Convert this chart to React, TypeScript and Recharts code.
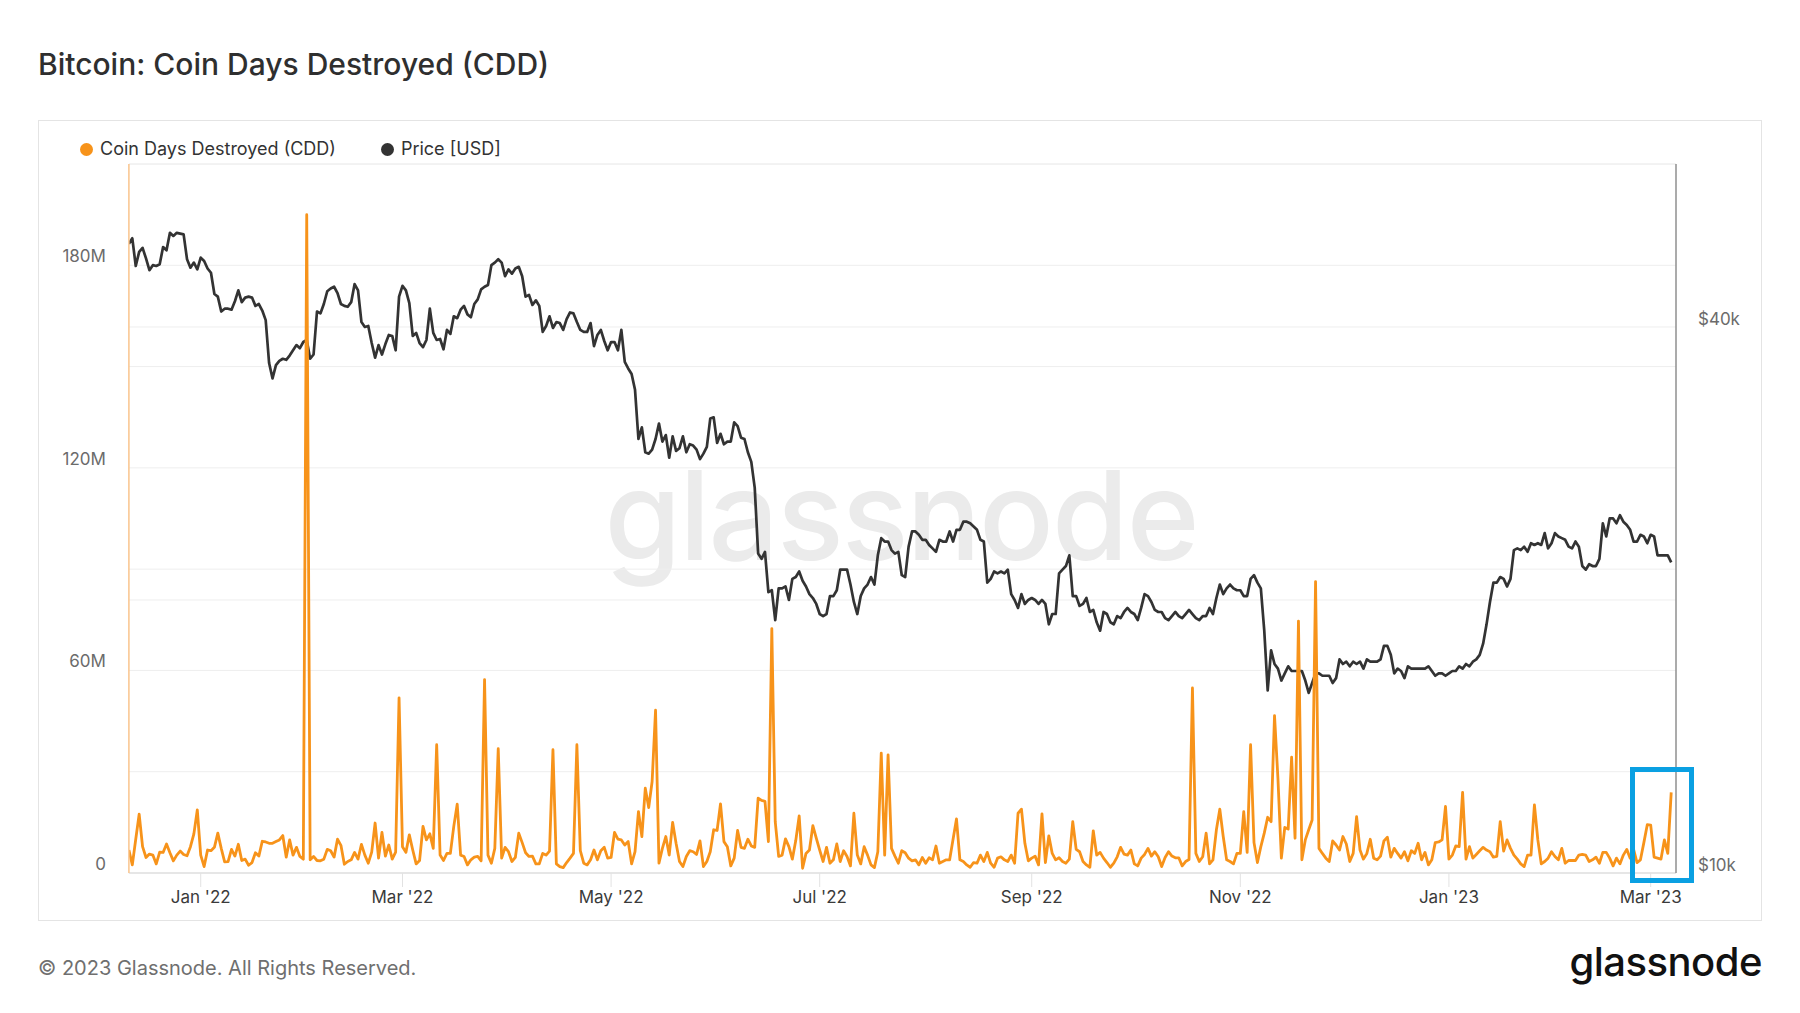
import React from "react";
import { LineChart, Line, XAxis, YAxis, CartesianGrid } from "recharts";

const DAY = 86400000;
const START = Date.UTC(2021, 11, 11);

// Coin Days Destroyed, in millions, one value per day starting 11 Dec 2021
const cddDec21 = [6.8, 2.4, 10, 17.4, 7.8, 4.6, 5.6, 5.3, 2.7, 6.2, 6.1, 8.6, 6.0, 3.6, 5.3, 6.5, 5.5, 5.1, 7.8, 11.6, 18.7];
const cddJan22 = [5.3, 1.9, 6.8, 6.6, 7.6, 11.8, 7.3, 3.3, 3.4, 7.0, 5.0, 8.5, 3.7, 4.1, 2.3, 3.1, 6.0, 5.0, 9.4, 9.2, 8.8, 8.8, 9.3, 9.8, 11.1, 4.7, 9.8, 5.3, 7.6, 4.9, 4.1];
const cddFeb22 = [195, 3.9, 4.9, 3.7, 3.6, 4.1, 7.0, 6.6, 4.7, 10.0, 8.2, 2.6, 3.4, 3.9, 6.1, 4.1, 8.5, 5.3, 2.9, 6.2, 14.8, 4.4, 12.0, 5.0, 8.3, 4.1, 6.2, 51.9];
const cddMar22 = [7.8, 6.1, 11.3, 6.8, 2.7, 3.7, 13.8, 9.8, 11.6, 7.3, 38.0, 5.3, 3.7, 5.8, 5.8, 13.8, 20.4, 5.3, 4.9, 2.4, 3.9, 4.7, 4.9, 3.6, 57.3, 5.3, 2.9, 7.3, 36.8, 4.4, 7.6];
const cddApr22 = [6.3, 3.4, 4.6, 11.8, 9.0, 6.0, 4.9, 5.0, 2.7, 2.7, 5.8, 5.3, 6.5, 36.5, 2.7, 1.9, 1.6, 3.1, 4.4, 5.8, 38.0, 6.6, 2.9, 2.4, 3.9, 6.8, 3.9, 6.6, 7.6, 4.4];
const cddMay22 = [4.6, 12.0, 10.0, 9.8, 8.3, 9.3, 2.7, 6.3, 18.2, 10.8, 25.1, 19.4, 27.1, 48.2, 2.9, 7.3, 10.8, 5.3, 15.0, 8.8, 3.4, 1.9, 4.9, 6.6, 6.3, 5.5, 9.5, 1.9, 3.4, 6.3, 12.8];
const cddJun22 = [12.6, 20.5, 9.3, 7.8, 2.1, 4.4, 12.6, 7.6, 7.3, 10.0, 8.0, 7.6, 22.2, 21.5, 21.2, 9.3, 72.4, 15.2, 4.9, 5.3, 10.1, 7.8, 4.1, 9.6, 16.9, 1.4, 5.8, 6.8, 14.0, 10.3];
const cddJul22 = [6.8, 3.4, 7.6, 2.9, 3.9, 8.6, 3.4, 6.6, 4.9, 2.1, 17.7, 5.3, 2.7, 7.8, 5.3, 2.4, 1.6, 6.3, 35.5, 5.3, 35.0, 7.3, 5.0, 2.9, 6.6, 6.0, 4.4, 3.6, 3.9, 2.4, 4.6];
const cddAug22 = [2.9, 4.5, 3.9, 8.0, 2.9, 3.4, 3.9, 3.9, 10, 16.0, 3.9, 3.4, 2.4, 1.7, 3.1, 2.9, 5.3, 3.4, 6.1, 2.9, 1.7, 4.4, 4.8, 3.9, 3.4, 5.3, 2.9, 17.7, 18.9, 8.8, 3.6];
const cddSep22 = [4.4, 5.0, 2.4, 17.5, 3.1, 11.0, 5.8, 3.9, 4.5, 3.4, 2.9, 4.1, 15.2, 7.0, 6.3, 3.4, 2.4, 1.7, 12.5, 5.3, 6.1, 4.4, 3.1, 1.7, 2.9, 4.8, 7.6, 5.6, 5.3, 6.8];
const cddOct22 = [2.7, 2.1, 4.4, 5.5, 7.3, 5.0, 6.3, 4.8, 1.9, 4.6, 6.3, 5.0, 4.5, 4.5, 2.1, 3.4, 4.0, 54.8, 5.8, 3.4, 4.8, 11.8, 2.7, 3.9, 12.8, 18.9, 10.8, 3.9, 3.4, 2.7, 5.8];
const cddNov22 = [5.8, 18.2, 6.1, 38.0, 9.0, 3.1, 7.8, 11.8, 16.5, 15.2, 46.6, 28.0, 4.4, 13.5, 13.0, 34.3, 10.3, 74.6, 3.9, 9.8, 12.8, 15.7, 86.3, 7.3, 5.8, 4.4, 3.4, 9.5, 8.3, 6.8];
const cddDec22 = [10.8, 8.6, 3.4, 5.8, 16.7, 6.8, 4.1, 5.8, 10.0, 4.4, 3.9, 5.0, 9.5, 10.6, 4.7, 7.3, 5.8, 4.4, 6.3, 3.6, 6.6, 5.8, 8.8, 3.9, 6.1, 2.4, 3.9, 9.0, 9.2, 9.8, 19.7];
const cddJan23 = [4.1, 5.3, 8.0, 7.8, 23.9, 4.1, 7.8, 4.4, 5.5, 6.6, 7.6, 6.8, 6.3, 4.7, 4.9, 15.2, 6.5, 9.8, 7.3, 5.3, 4.1, 2.7, 1.9, 5.3, 5.3, 20.2, 9.8, 2.7, 3.4, 4.4, 6.3];
const cddFeb23 = [4.9, 3.9, 7.3, 2.9, 3.7, 3.7, 3.7, 5.3, 5.5, 5.3, 3.4, 3.9, 4.7, 2.9, 6.1, 6.1, 4.4, 2.1, 4.4, 2.7, 5.3, 7.0, 4.4, 7.0, 3.1, 3.9, 9.0, 14.3];
const cddMar23 = [14.2, 4.7, 4.4, 4.1, 9.8, 5.8, 23.9];

// BTC price, in thousands of USD, same days
const priceDec21 = [49.4, 50.1, 46.7, 48.4, 48.9, 47.6, 46.2, 46.8, 46.7, 46.9, 49.0, 48.6, 50.8, 50.4, 50.8, 50.7, 50.6, 47.5, 46.5, 47.1, 46.3];
const priceJan22 = [47.7, 47.3, 46.4, 45.9, 43.5, 43.2, 41.6, 41.9, 41.9, 41.8, 42.7, 43.9, 42.6, 43.1, 43.2, 43.1, 42.2, 42.4, 41.7, 40.7, 36.5, 35.1, 36.3, 36.7, 36.9, 36.8, 37.2, 37.7, 38.2, 37.9, 38.5];
const priceFeb22 = [38.7, 36.9, 37.3, 41.6, 41.4, 42.4, 43.8, 44.1, 44.3, 43.6, 42.4, 42.2, 42.1, 42.6, 44.6, 43.9, 40.5, 40.0, 40.1, 38.4, 37.0, 38.2, 37.3, 38.3, 39.2, 39.1, 37.7, 43.2];
const priceMar22 = [44.4, 43.9, 42.5, 39.1, 39.4, 38.4, 38.0, 38.7, 41.9, 39.4, 38.7, 38.8, 37.8, 39.7, 39.3, 41.1, 40.9, 41.8, 42.2, 41.3, 41.0, 42.4, 42.9, 44.0, 44.3, 44.5, 46.8, 47.1, 47.5, 47.1, 45.5];
const priceApr22 = [46.3, 45.8, 46.4, 46.6, 45.5, 43.2, 43.4, 42.3, 42.8, 42.2, 39.5, 40.1, 41.1, 39.9, 40.5, 40.4, 39.7, 40.8, 41.5, 41.4, 40.5, 39.7, 39.5, 39.5, 40.4, 38.1, 39.2, 39.7, 38.6, 37.7];
const priceMay22 = [38.5, 38.5, 37.7, 39.7, 36.6, 36.0, 35.5, 34.1, 30.1, 31.0, 29.1, 29.0, 29.3, 30.1, 31.3, 29.9, 30.4, 28.7, 30.3, 29.2, 29.4, 30.3, 29.1, 29.7, 29.6, 29.3, 28.6, 29.0, 29.5, 31.7, 31.8];
const priceJun22 = [29.8, 30.5, 29.7, 29.9, 29.9, 31.4, 31.1, 30.2, 30.1, 29.1, 28.4, 26.6, 22.5, 22.2, 22.6, 20.4, 20.5, 19.0, 20.6, 20.6, 20.7, 20.0, 21.1, 21.2, 21.5, 21.0, 20.7, 20.3, 20.1, 19.8];
const priceJul22 = [19.3, 19.2, 19.3, 20.2, 20.2, 20.5, 21.6, 21.6, 21.6, 20.8, 19.9, 19.3, 20.2, 20.6, 20.8, 21.2, 20.8, 22.4, 23.4, 23.2, 23.2, 22.7, 22.5, 22.6, 21.3, 21.2, 22.9, 23.8, 23.8, 23.6, 23.3];
const priceAug22 = [23.3, 23.0, 22.8, 22.6, 23.3, 23.2, 23.2, 23.8, 23.2, 23.9, 23.9, 24.4, 24.4, 24.3, 24.1, 23.9, 23.3, 23.2, 20.9, 21.1, 21.5, 21.4, 21.5, 21.4, 21.6, 20.3, 20.0, 19.6, 20.3, 19.8, 20.0];
const priceSep22 = [20.1, 20.0, 19.8, 20.0, 19.8, 18.8, 19.3, 19.3, 21.4, 21.6, 21.8, 22.4, 20.2, 20.2, 19.7, 19.8, 20.1, 19.4, 19.5, 18.9, 18.5, 19.4, 19.3, 18.9, 18.8, 19.2, 19.1, 19.4, 19.6, 19.4];
const priceOct22 = [19.3, 19.0, 19.6, 20.3, 20.2, 19.9, 19.5, 19.4, 19.4, 19.1, 19.0, 19.2, 19.4, 19.2, 19.1, 19.3, 19.5, 19.3, 19.1, 19.0, 19.2, 19.2, 19.6, 19.3, 20.1, 20.8, 20.3, 20.6, 20.8, 20.6, 20.5];
const priceNov22 = [20.5, 20.2, 20.2, 21.1, 21.3, 20.9, 20.6, 18.5, 15.9, 17.6, 17.0, 16.8, 16.3, 16.6, 16.9, 16.7, 16.7, 16.7, 16.7, 16.3, 15.8, 16.2, 16.6, 16.6, 16.5, 16.5, 16.5, 16.2, 16.4, 17.2];
const priceDec22 = [17.0, 17.1, 16.9, 17.1, 17.0, 17.1, 16.8, 17.2, 17.1, 17.1, 17.1, 17.2, 17.8, 17.8, 17.4, 16.6, 16.8, 16.7, 16.4, 16.9, 16.8, 16.8, 16.8, 16.8, 16.8, 16.9, 16.7, 16.5, 16.6, 16.6, 16.5];
const priceJan23 = [16.6, 16.7, 16.7, 16.9, 16.8, 17.0, 16.9, 17.1, 17.2, 17.4, 17.9, 18.8, 19.9, 20.9, 20.9, 21.2, 21.1, 20.7, 21.1, 22.7, 22.8, 22.7, 22.9, 22.6, 23.1, 23.0, 23.1, 23.0, 23.7, 22.8, 23.1];
const priceFeb23 = [23.7, 23.5, 23.4, 23.3, 22.9, 22.8, 23.2, 22.9, 21.8, 21.6, 21.9, 21.8, 21.8, 22.2, 24.3, 23.5, 24.6, 24.6, 24.3, 24.8, 24.4, 24.2, 23.9, 23.2, 23.2, 23.6, 23.5, 23.1];
const priceMar23 = [23.6, 23.5, 22.4, 22.4, 22.4, 22.4, 22.0];

const cdd = [
  ...cddDec21, ...cddJan22, ...cddFeb22, ...cddMar22, ...cddApr22, ...cddMay22, ...cddJun22, ...cddJul22,
  ...cddAug22, ...cddSep22, ...cddOct22, ...cddNov22, ...cddDec22, ...cddJan23, ...cddFeb23, ...cddMar23,
];
const price = [
  ...priceDec21, ...priceJan22, ...priceFeb22, ...priceMar22, ...priceApr22, ...priceMay22, ...priceJun22, ...priceJul22,
  ...priceAug22, ...priceSep22, ...priceOct22, ...priceNov22, ...priceDec22, ...priceJan23, ...priceFeb23, ...priceMar23,
];

const tickDates = [[2022, 0], [2022, 2], [2022, 4], [2022, 6], [2022, 8], [2022, 10], [2023, 0], [2023, 2]];
const tickLabels = ["Jan '22", "Mar '22", "May '22", "Jul '22", "Sep '22", "Nov '22", "Jan '23", "Mar '23"];
const tickTimes = tickDates.map(([y, m]) => Date.UTC(y, m, 1));

const cddTicks = [0, 30, 60, 90, 120, 150, 180, 210];
const cddLabels: Record<number, string> = { 0: "0", 60: "60M", 120: "120M", 180: "180M" };
const priceTicks = [10000, 20000, 40000];
const priceLabels: Record<number, string> = { 10000: "$10k", 40000: "$40k" };

const data = cdd.map((v, i) => ({ t: START + i * DAY, cdd: v, price: price[i] * 1000 }));

const ORANGE = "#f7931a";
const DARK = "#333333";

const CddTick = ({ x, y, payload }: any) => {
  const label = cddLabels[payload.value];
  if (!label) return <g />;
  return (
    <text x={x - 23} y={y - 9} dy="0.35em" textAnchor="end" fill="#6b6b6b" fontSize={17}>
      {label}
    </text>
  );
};

const PriceTick = ({ x, y, payload }: any) => {
  const label = priceLabels[payload.value];
  if (!label) return <g />;
  return (
    <text x={x + 22} y={y - 8} dy="0.35em" textAnchor="start" fill="#6b6b6b" fontSize={17}>
      {label}
    </text>
  );
};

const LegendDot = ({ color, label }: { color: string; label: string }) => (
  <span style={{ display: "inline-flex", alignItems: "center", marginRight: 45 }}>
    <span style={{ width: 13, height: 13, borderRadius: "50%", background: color, marginRight: 7 }} />
    {label}
  </span>
);

export default function App() {
  return (
    <div
      style={{
        position: "absolute",
        left: 0,
        top: 0,
        width: 1800,
        height: 1013,
        background: "#ffffff",
        fontFamily: "Inter, 'Noto Sans', sans-serif",
        overflow: "hidden",
      }}
    >
      <div style={{ position: "absolute", left: 38, top: 49, fontSize: 30, lineHeight: 1, fontWeight: 500, color: "#2f2f2f" }}>
        Bitcoin: Coin Days Destroyed (CDD)
      </div>

      <div
        style={{
          position: "absolute",
          left: 38,
          top: 120,
          width: 1724,
          height: 801,
          border: "1.5px solid #e4e4e4",
          boxSizing: "border-box",
        }}
      />

      {/* watermark */}
      <div
        style={{
          position: "absolute",
          left: 601,
          top: 453,
          width: 600,
          textAlign: "center",
          fontSize: 124,
          lineHeight: 1,
          fontWeight: 500,
          color: "#ebebeb",
          letterSpacing: -2,
        }}
      >
        glassnode
      </div>

      <div
        style={{
          position: "absolute",
          left: 80,
          top: 140,
          fontSize: 18,
          lineHeight: 1,
          color: "#333",
          display: "flex",
        }}
      >
        <LegendDot color={ORANGE} label="Coin Days Destroyed (CDD)" />
        <LegendDot color={DARK} label="Price [USD]" />
      </div>

      <div style={{ position: "absolute", left: 0, top: 0 }}>
        <LineChart width={1800} height={1013} data={data} margin={{ top: 164, right: 44, bottom: 100, left: 68.9 }}>
          <CartesianGrid yAxisId="cdd" vertical={false} stroke="#eeeeee" />
          <CartesianGrid yAxisId="price" vertical={false} stroke="#eeeeee" />
          <XAxis
            dataKey="t"
            type="number"
            domain={[START, START + 452.4 * DAY]}
            allowDataOverflow
            ticks={tickTimes}
            interval={0}
            tickFormatter={(v: number) => tickLabels[tickTimes.indexOf(v)]}
            axisLine={{ stroke: "#e2e2e2", strokeWidth: 1.5 }}
            tickLine={{ stroke: "#e2e2e2" }}
            tickSize={14}
            tickMargin={4}
            tick={{ fill: "#3a3a3a", fontSize: 17 }}
            height={40}
          />
          <YAxis
            yAxisId="cdd"
            orientation="left"
            width={60}
            domain={[0, 210]}
            allowDataOverflow
            ticks={cddTicks}
            interval={0}
            axisLine={{ stroke: "#f9c48c", strokeWidth: 1.5 }}
            tickLine={false}
            tickSize={0}
            tickMargin={0}
            tick={<CddTick />}
          />
          <YAxis
            yAxisId="price"
            orientation="right"
            width={80}
            scale="log"
            domain={[10000, 60500]}
            allowDataOverflow
            ticks={priceTicks}
            interval={0}
            axisLine={{ stroke: "#8f8f8f", strokeWidth: 1.5 }}
            tickLine={false}
            tickSize={0}
            tickMargin={0}
            tick={<PriceTick />}
          />
          <Line
            yAxisId="price"
            type="linear"
            dataKey="price"
            stroke={DARK}
            strokeWidth={2.7}
            strokeLinejoin="round"
            dot={false}
            activeDot={false}
            isAnimationActive={false}
          />
          <Line
            yAxisId="cdd"
            type="linear"
            dataKey="cdd"
            stroke={ORANGE}
            strokeWidth={2.8}
            strokeLinejoin="round"
            dot={false}
            activeDot={false}
            isAnimationActive={false}
          />
        </LineChart>
      </div>

      {/* highlight of the latest readings */}
      <div
        style={{
          position: "absolute",
          left: 1630,
          top: 767,
          width: 64,
          height: 116,
          border: "5px solid #0aa0e2",
          boxSizing: "border-box",
        }}
      />

      <div style={{ position: "absolute", left: 38, top: 958, fontSize: 20, lineHeight: 1, color: "#6f6f6f" }}>
        © 2023 Glassnode. All Rights Reserved.
      </div>
      <div
        style={{
          position: "absolute",
          right: 38,
          top: 942,
          fontSize: 40,
          lineHeight: 1,
          fontWeight: 500,
          color: "#111",
          letterSpacing: -0.5,
        }}
      >
        glassnode
      </div>
    </div>
  );
}
